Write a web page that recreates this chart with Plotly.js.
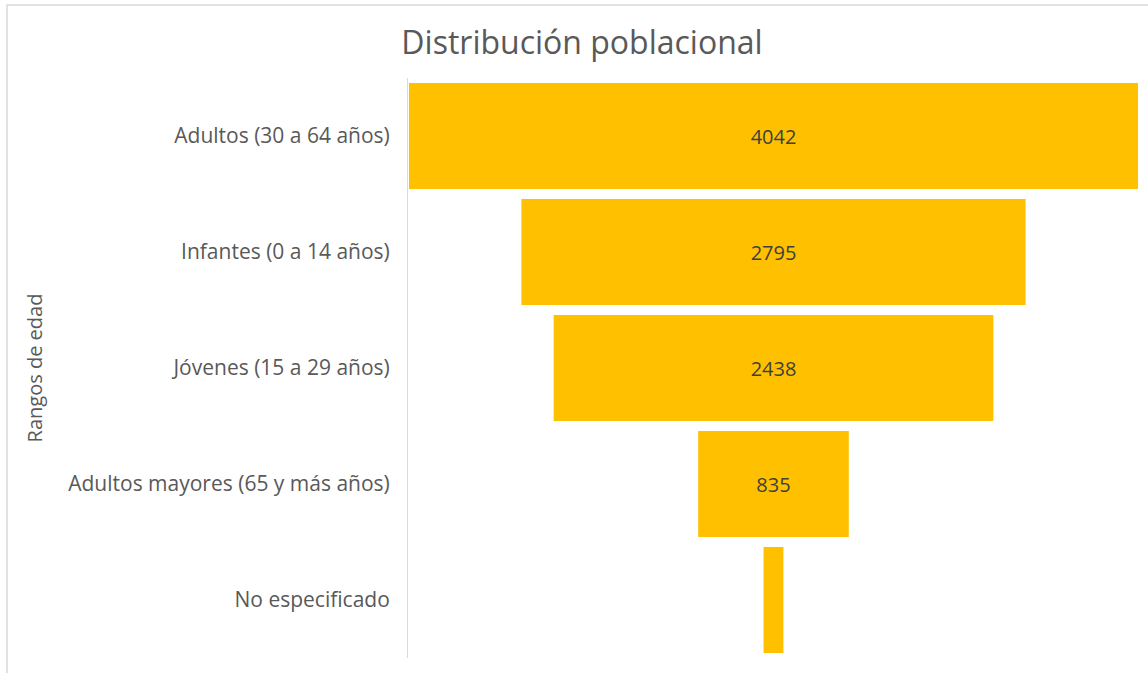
<!DOCTYPE html>
<html>
<head>
<meta charset="utf-8">
<script src="https://cdn.plot.ly/plotly-3.0.1.min.js"></script>
<style>
  html, body { margin: 0; padding: 0; background: #ffffff; }
  #chart { width: 1148px; height: 673px; }
</style>
</head>
<body>
<div id="chart"></div>
<script>
const categories = [
  "Adultos (30 a 64 años)",
  "Infantes (0 a 14 años)",
  "Jóvenes (15 a 29 años)",
  "Adultos mayores (65 y más años)",
  "No especificado"
];
const values = [4042, 2795, 2438, 835, 110];
const labelPositions = ["inside", "inside", "inside", "inside", "none"];

const trace = {
  type: "funnel",
  y: categories,
  x: values,
  textinfo: "value",
  textposition: labelPositions,
  insidetextanchor: "middle",
  constraintext: "none",
  textfont: { family: "Open Sans, sans-serif", size: 20, color: "#404040" },
  marker: { color: "#FFC000", line: { width: 0 } },
  connector: { visible: false },
  hoverinfo: "y+x"
};

const PL = 408, PW = 731, PT = 78, PH = 580;
const px = v => (v - PL) / PW;
const py = v => (PT + PH - v) / PH;

const layout = {
  width: 1148,
  height: 673,
  paper_bgcolor: "#ffffff",
  plot_bgcolor: "#ffffff",
  margin: { l: PL, r: 1148 - PL - PW, t: PT, b: 673 - PT - PH, autoexpand: false },
  showlegend: false,
  funnelgap: 0.086,
  title: {
    text: "Distribución poblacional",
    font: { family: "Open Sans, sans-serif", size: 32, color: "#595959" },
    xref: "container", x: 582 / 1148, xanchor: "center",
    yref: "container", y: 1 - 43 / 673, yanchor: "middle"
  },
  xaxis: {
    range: [-2026.3, 2026.3],
    visible: false,
    fixedrange: true
  },
  yaxis: {
    type: "category",
    autorange: "reversed",
    showline: true,
    linecolor: "#d9d9d9",
    linewidth: 1,
    showgrid: false,
    zeroline: false,
    ticks: "",
    ticklabelstandoff: 13,
    tickfont: { family: "Open Sans, sans-serif", size: 21, color: "#595959" },
    title: {
      text: "Rangos de edad",
      font: { family: "Open Sans, sans-serif", size: 20, color: "#595959" },
      standoff: 20
    },
    automargin: false
  },
  shapes: [
    {
      type: "rect", xref: "paper", yref: "paper",
      x0: px(7), x1: px(1160), y0: py(5), y1: py(690),
      line: { color: "#d9d9d9", width: 1.5 },
      fillcolor: "rgba(0,0,0,0)",
      layer: "below"
    }
  ]
};

Plotly.newPlot("chart", [trace], layout, { displayModeBar: false, staticPlot: false });
</script>
</body>
</html>
